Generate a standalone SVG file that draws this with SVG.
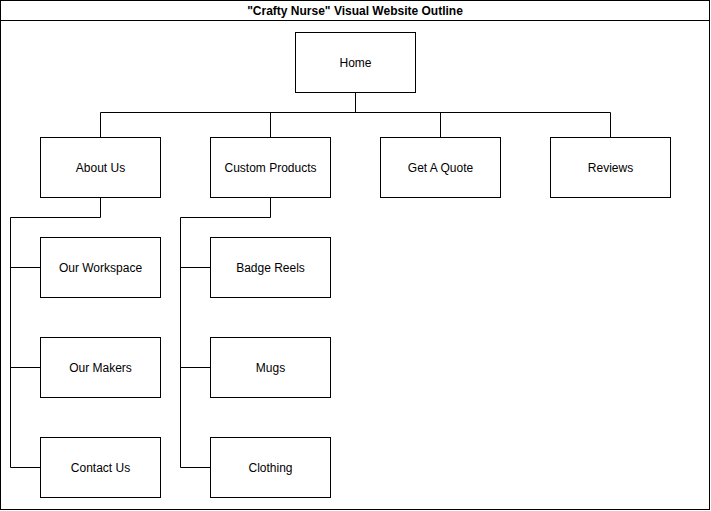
<svg xmlns="http://www.w3.org/2000/svg" width="711" height="511" viewBox="0 0 711 511">
<style>
.box{fill:#fff;stroke:#000;stroke-width:1}
.lbl{font-family:"Liberation Sans",Arial,sans-serif;font-size:12px;fill:#000;text-anchor:middle}
.ttl{font-family:"Liberation Sans",Arial,sans-serif;font-size:12px;font-weight:bold;fill:#000;text-anchor:middle}
.con{fill:none;stroke:#000;stroke-width:1}
</style>
<rect x="0" y="0" width="711" height="511" fill="#fff"/>
<g id="frame">
<rect x="0.5" y="0.5" width="709" height="509" fill="#fff" stroke="#000"/>
<line x1="0.5" y1="20.5" x2="709.5" y2="20.5" stroke="#000"/>
<text class="ttl" x="355" y="14.5">"Crafty Nurse" Visual Website Outline</text>
</g>
<g id="connectors">
<path class="con" d="M355.5,92.5 V112.5 M100.5,137.5 V112.5 H610.5 V137.5 M270.5,112.5 V137.5 M440.5,112.5 V137.5"/>
<path class="con" d="M100.5,197.5 V217.5 H10.5 V467.5 H40.5 M10.5,267.5 H40.5 M10.5,367.5 H40.5"/>
<path class="con" d="M270.5,197.5 V217.5 H180.5 V467.5 H210.5 M180.5,267.5 H210.5 M180.5,367.5 H210.5"/>
</g>
<g id="home"><rect class="box" x="295.5" y="32.5" width="120" height="60"/><text class="lbl" x="355.5" y="66.5">Home</text></g>
<g id="about"><rect class="box" x="40.5" y="137.5" width="120" height="60"/><text class="lbl" x="100.5" y="171.5">About Us</text></g>
<g id="custom"><rect class="box" x="210.5" y="137.5" width="120" height="60"/><text class="lbl" x="270.5" y="171.5">Custom Products</text></g>
<g id="quote"><rect class="box" x="380.5" y="137.5" width="120" height="60"/><text class="lbl" x="440.5" y="171.5">Get A Quote</text></g>
<g id="reviews"><rect class="box" x="550.5" y="137.5" width="120" height="60"/><text class="lbl" x="610.5" y="171.5">Reviews</text></g>
<g id="workspace"><rect class="box" x="40.5" y="237.5" width="120" height="60"/><text class="lbl" x="100.5" y="271.5">Our Workspace</text></g>
<g id="makers"><rect class="box" x="40.5" y="337.5" width="120" height="60"/><text class="lbl" x="100.5" y="371.5">Our Makers</text></g>
<g id="contact"><rect class="box" x="40.5" y="437.5" width="120" height="60"/><text class="lbl" x="100.5" y="471.5">Contact Us</text></g>
<g id="badge"><rect class="box" x="210.5" y="237.5" width="120" height="60"/><text class="lbl" x="270.5" y="271.5">Badge Reels</text></g>
<g id="mugs"><rect class="box" x="210.5" y="337.5" width="120" height="60"/><text class="lbl" x="270.5" y="371.5">Mugs</text></g>
<g id="clothing"><rect class="box" x="210.5" y="437.5" width="120" height="60"/><text class="lbl" x="270.5" y="471.5">Clothing</text></g>
</svg>
